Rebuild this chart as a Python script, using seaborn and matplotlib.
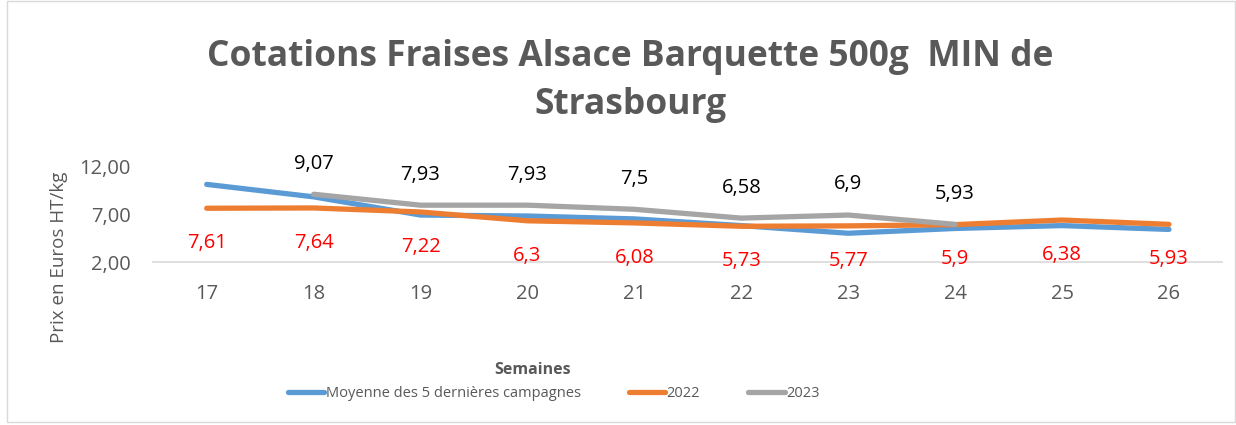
import matplotlib
matplotlib.use("Agg")
import matplotlib.pyplot as plt
import matplotlib.ticker as mticker
from matplotlib.patches import Rectangle
import numpy as np
import pandas as pd
import seaborn as sns

# données
semaines = [17, 18, 19, 20, 21, 22, 23, 24, 25, 26]
moyenne_5 = [10.1, 8.8, 6.9, 6.8, 6.5, 5.8, 5.0, 5.5, 5.8, 5.4]
prix_2022 = [7.61, 7.64, 7.22, 6.3, 6.08, 5.73, 5.77, 5.9, 6.38, 5.93]
semaines_2023 = [18, 19, 20, 21, 22, 23, 24]
prix_2023 = [9.07, 7.93, 7.93, 7.5, 6.58, 6.9, 5.93]
series = ["Moyenne des 5 dernières campagnes", "2022", "2023"]
couleurs = ["#5B9BD5", "#ED7D31", "#A5A5A5"]

df = pd.concat([
    pd.DataFrame({"Semaine": semaines, "Prix": moyenne_5, "Serie": series[0]}),
    pd.DataFrame({"Semaine": semaines, "Prix": prix_2022, "Serie": series[1]}),
    pd.DataFrame({"Semaine": semaines_2023, "Prix": prix_2023, "Serie": series[2]}),
])

sns.set_style("white")
plt.rcParams['font.family'] = ['Open Sans', 'DejaVu Sans']

gris = "#595959"
fig = plt.figure(figsize=(12.36, 4.25), dpi=100)
ax = fig.add_axes([0.124, 0.3835, 0.865, 0.2255])

sns.lineplot(data=df, x="Semaine", y="Prix", hue="Serie", hue_order=series,
             palette=couleurs, linewidth=3.8, ax=ax, legend=False, sort=False)

# étiquettes
for x, v in zip(semaines, prix_2022):
    ax.annotate(f"{v:g}".replace(".", ","), (x, v), xytext=(0, -25),
                textcoords="offset points", ha="center", va="center",
                color="#FF0000", fontsize=14.5)
for x, v in zip(semaines_2023, prix_2023):
    ax.annotate(f"{v:g}".replace(".", ","), (x, v), xytext=(0, 22),
                textcoords="offset points", ha="center", va="center",
                color="black", fontsize=14.5)

ax.set_xlim(16.5, 26.5)
ax.set_ylim(2, 12)
ax.set_xticks(semaines)
ax.set_yticks([2, 7, 12])
ax.yaxis.set_major_formatter(mticker.FuncFormatter(lambda v, p: f"{v:.2f}".replace(".", ",")))
ax.tick_params(axis="both", labelsize=14.5, labelcolor=gris, length=0)
ax.tick_params(axis="x", pad=16)
ax.tick_params(axis="y", pad=16)
for s in ["top", "right", "left"]:
    ax.spines[s].set_visible(False)
ax.spines["bottom"].set_color("#D9D9D9")
ax.spines["bottom"].set_linewidth(1.2)
ax.set_xlabel("")
ax.set_ylabel("Prix en Euros HT/kg", fontsize=13.5, color=gris)
ax.yaxis.set_label_coords(-0.08, 0.05)

fig.text(0.51, 0.865, "Cotations Fraises Alsace Barquette 500g  MIN de",
         ha="center", va="center", fontsize=25.5, fontweight="bold", color=gris)
fig.text(0.51, 0.752, "Strasbourg", ha="center", va="center",
         fontsize=25.5, fontweight="bold", color=gris)
fig.text(0.431, 0.13, "Semaines", ha="center", va="center",
         fontsize=11.5, fontweight="bold", color=gris)

handles = [plt.Line2D([], [], color=c, linewidth=3.8, solid_capstyle="round") for c in couleurs]
leg = fig.legend(handles, series, loc="center", bbox_to_anchor=(0.448, 0.075), ncol=3,
                 frameon=False, handlelength=2.5, handletextpad=0.1,
                 columnspacing=3.3, prop={"size": 10.5})
for t in leg.get_texts():
    t.set_color(gris)

fig.patches.append(Rectangle((0.006, 0.008), 0.993, 0.99, transform=fig.transFigure,
                             fill=False, edgecolor="#D9D9D9", linewidth=1))

fig.savefig("out.png", dpi=100)
